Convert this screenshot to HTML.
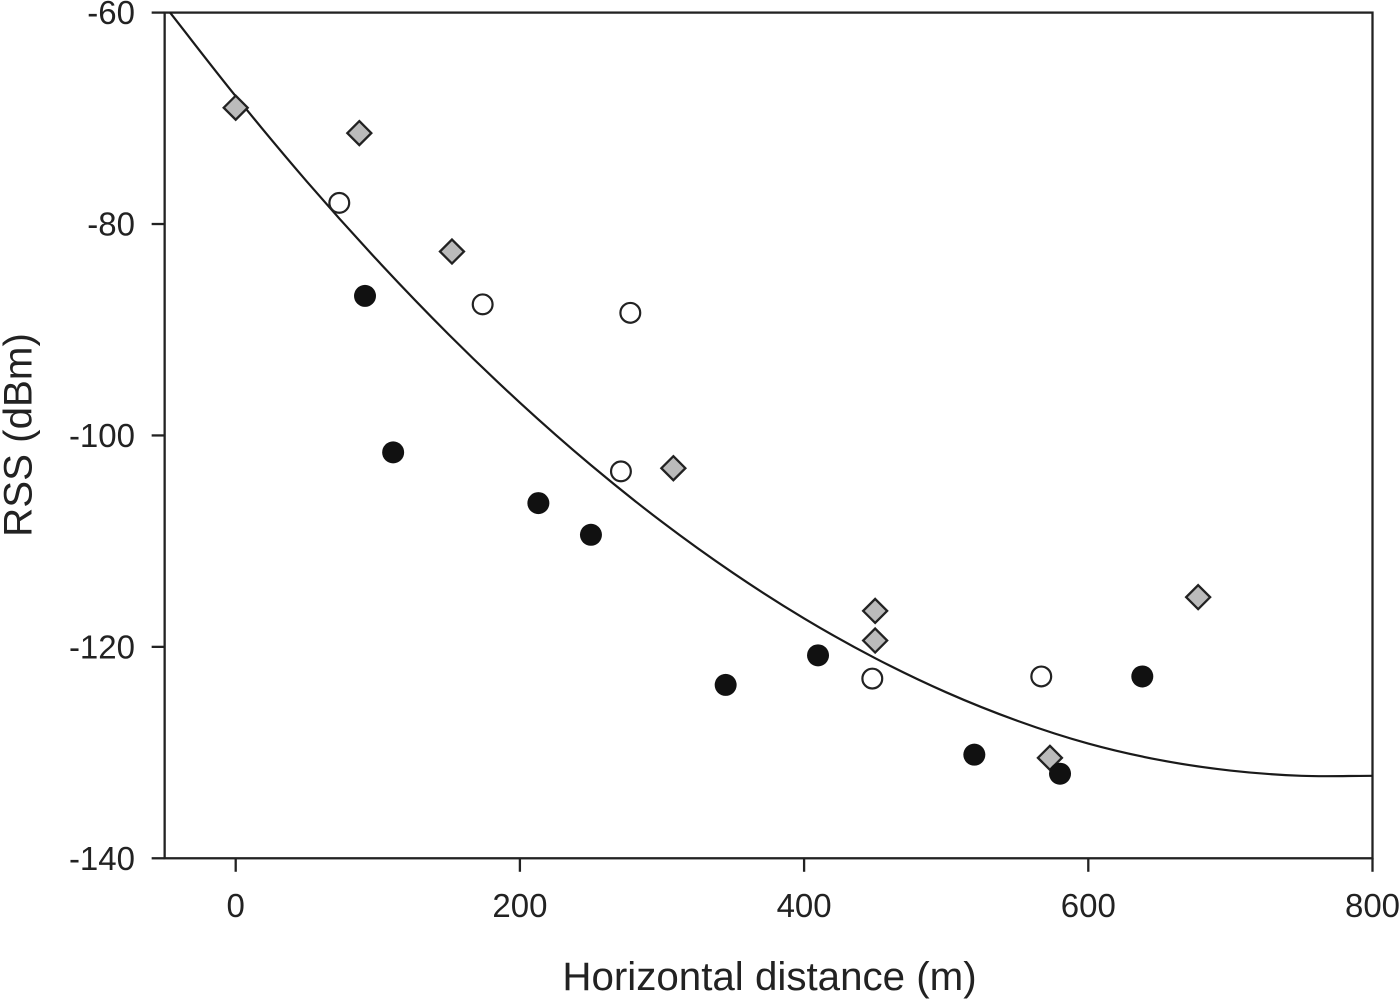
<!DOCTYPE html>
<html>
<head>
<meta charset="utf-8">
<title>RSS vs Horizontal distance</title>
<style>
html,body{margin:0;padding:0;background:#fff;width:1400px;height:999px;overflow:hidden}
svg{display:block}
text{font-family:"Liberation Sans",sans-serif;fill:#222}
</style>
</head>
<body>
<svg id="chart" width="1400" height="999" viewBox="0 0 1400 999"></svg>
<script>
const xTicks = [0, 200, 400, 600, 800];
const yTicks = [-60, -80, -100, -120, -140];
const blackX = [91, 110.8, 213, 250, 344.8, 409.8, 519.8, 580.1, 638];
const blackY = [-86.8, -101.6, -106.4, -109.4, -123.6, -120.8, -130.2, -132, -122.8];
const openX = [72.9, 173.8, 277.7, 271.1, 448, 566.9];
const openY = [-78, -87.6, -88.4, -103.4, -123, -122.8];
const diamondX = [0, 87, 152.2, 308, 450, 450, 573, 677.3];
const diamondY = [-69, -71.4, -82.6, -103.1, -116.6, -119.4, -130.5, -115.3];
const curveX = [-46.2, 0, 50, 100, 150, 200, 250, 300, 350, 400, 450, 500, 550, 600, 650, 700, 750, 800];
const curveY = [-60, -67.91, -75.97, -83.48, -90.46, -96.9, -102.81, -108.18, -113.01, -117.31, -121.07, -124.3, -126.99, -129.15, -130.7, -131.7, -132.2, -132.2];

const NS = 'http://www.w3.org/2000/svg';
const svg = document.getElementById('chart');
const INK = '#222';
const sx = v => 235.7 + v * 1.421;
const sy = v => 12.6 + (v + 60) * -10.571;

function make(tag, attrs, parent) {
  const el = document.createElementNS(NS, tag);
  for (const k in attrs) el.setAttribute(k, attrs[k]);
  (parent || svg).appendChild(el);
  return el;
}

// plot frame
const frame = make('rect', {x: sx(-50), y: sy(-60), width: sx(800) - sx(-50), height: sy(-140) - sy(-60), fill: 'none', stroke: INK, 'stroke-width': 2.3});



// x axis
xTicks.forEach(t => {
  const tick = make('line', {x1: sx(t), x2: sx(t), y1: sy(-140), y2: sy(-140) + 13.5, stroke: INK, 'stroke-width': 2.3});
  
  
  const label = make('text', {x: sx(t), y: 917, 'text-anchor': 'middle', 'font-size': 33});
  label.textContent = t;
  
  
});

// y axis
yTicks.forEach(t => {
  const tick = make('line', {x1: sx(-50) - 13, x2: sx(-50), y1: sy(t), y2: sy(t), stroke: INK, 'stroke-width': 2.3});
  
  
  const label = make('text', {x: 135, y: sy(t) + 11.5, 'text-anchor': 'end', 'font-size': 33});
  label.textContent = t;
  
  
});

// axis titles
const xTitle = make('text', {x: 769.5, y: 990, 'text-anchor': 'middle', 'font-size': 40.3});
xTitle.textContent = 'Horizontal distance (m)';



const yTitle = make('text', {x: 0, y: 0, 'text-anchor': 'middle', 'font-size': 40.3, transform: 'translate(31.5,435) rotate(-90)'});
yTitle.textContent = 'RSS (dBm)';



// fitted curve (Catmull-Rom through the read points, ends extended by reflection)
const pts = curveX.map((x, i) => [sx(x), sy(curveY[i])]);
const last = pts.length - 1;
const reflect = (a, b) => [2 * a[0] - b[0], 2 * a[1] - b[1]];
let d = 'M' + pts[0][0] + ' ' + pts[0][1];
for (let i = 0; i < last; i++) {
  const p0 = i > 0 ? pts[i - 1] : reflect(pts[0], pts[1]);
  const p1 = pts[i], p2 = pts[i + 1];
  const p3 = i + 2 <= last ? pts[i + 2] : reflect(pts[last], pts[last - 1]);
  d += ' C' + (p1[0] + (p2[0] - p0[0]) / 6) + ' ' + (p1[1] + (p2[1] - p0[1]) / 6) + ' ' +
       (p2[0] - (p3[0] - p1[0]) / 6) + ' ' + (p2[1] - (p3[1] - p1[1]) / 6) + ' ' + p2[0] + ' ' + p2[1];
}
const curve = make('path', {d: d, fill: 'none', stroke: '#1a1a1a', 'stroke-width': 2.2});



// diamonds
diamondX.forEach((x, i) => {
  const cx = sx(x), cy = sy(diamondY[i]), r = 12;
  const m = make('polygon', {points: [cx, cy - r, cx + r, cy, cx, cy + r, cx - r, cy].join(' '), fill: '#bbbbbb', stroke: INK, 'stroke-width': 2.3});
  
  
});

// open circles
openX.forEach((x, i) => {
  const m = make('circle', {cx: sx(x), cy: sy(openY[i]), r: 9.9, fill: '#fff', stroke: INK, 'stroke-width': 2.2});
  
  
});

// black circles
blackX.forEach((x, i) => {
  const m = make('circle', {cx: sx(x), cy: sy(blackY[i]), r: 11, fill: '#111'});
  
  
});
</script>
</body>
</html>
